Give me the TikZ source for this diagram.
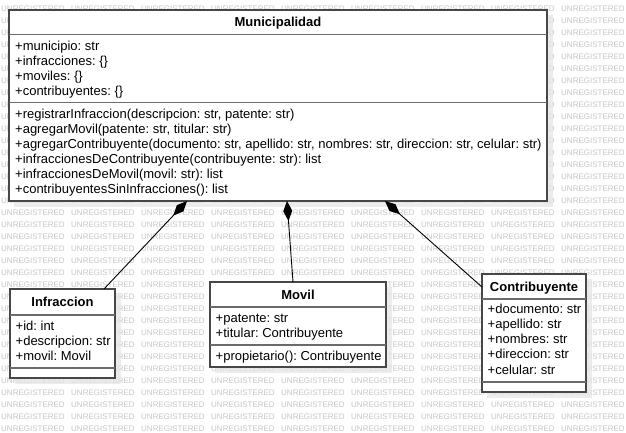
\documentclass[tikz,border=0pt]{standalone}
\usepackage{fontspec}
\setmainfont{Liberation Sans}
\usetikzlibrary{arrows.meta,calc}
\frenchspacing
\begin{document}
\begin{tikzpicture}[x=1bp,y=-1bp,
  wmark/.style={anchor=west,inner sep=0,font=\fontsize{8bp}{8bp}\selectfont,text=black!22},
  classbox/.style={draw=black!72,line width=1.4bp,fill=white,anchor=north west,inner sep=0,outer sep=0},
  shadowbox/.style={fill=black!10,opacity=0.7},
  sepline/.style={draw=black!58,line width=1.4bp},
  title/.style={anchor=base,inner sep=0,font=\fontsize{13bp}{15bp}\selectfont\bfseries},
  member/.style={anchor=base west,inner sep=0,font=\fontsize{13bp}{15bp}\selectfont\frenchspacing},
  compo/.style={draw=black,line width=0.9bp,-{Diamond[length=20bp,width=9bp]}}]
\useasboundingbox (0,0) rectangle (626,432);
\fill[white] (0,0) rectangle (626,432);
% watermark
\foreach \j in {0,...,8}{
  \foreach \k in {0,...,35}{
    \node[wmark] (wm-\j-\k) at ({1+70*\j},{9+12*\k}) {UNREGISTERED};
  }
}
% shadows
\fill[shadowbox] (14,15) rectangle (553,207);
\fill[shadowbox] (15,294) rectangle (121,384);
\fill[shadowbox] (215,287) rectangle (392,373);
\fill[shadowbox] (487,279) rectangle (592,398);
% Municipalidad
\node[classbox,minimum width=538bp,minimum height=191bp] (muni) at (9,10) {};
\draw[sepline] (9,34.5) -- (547,34.5);
\draw[sepline] (9,102.5) -- (547,102.5);
\node[title] (muni-t) at (278,26.5) {Municipalidad};
\node[member] (muni-a1) at (15,50) {+municipio: str};
\node[member] (muni-a2) at (15,65) {+infracciones: \{\}};
\node[member] (muni-a3) at (15,80) {+moviles: \{\}};
\node[member] (muni-a4) at (15,95) {+contribuyentes: \{\}};
\node[member] (muni-o1) at (15,118.5) {+registrarInfraccion(descripcion: str, patente: str)};
\node[member] (muni-o2) at (15,133.5) {+agregarMovil(patente: str, titular: str)};
\node[member] (muni-o3) at (15,148.5) {+agregarContribuyente(documento: str, apellido: str, nombres: str, direccion: str, celular: str)};
\node[member] (muni-o4) at (15,163.3) {+infraccionesDeContribuyente(contribuyente: str): list};
\node[member] (muni-o5) at (15,178.2) {+infraccionesDeMovil(movil: str): list};
\node[member] (muni-o6) at (15,193) {+contribuyentesSinInfracciones(): list};
% Infraccion
\node[classbox,minimum width=105bp,minimum height=89bp] (inf) at (10,289) {};
\draw[sepline] (10,315) -- (115,315);
\draw[sepline] (10,368) -- (115,368);
\node[title] (inf-t) at (62.5,306.5) {Infraccion};
\node[member] (inf-a1) at (15.5,330) {+id: int};
\node[member] (inf-a2) at (15.5,345) {+descripcion: str};
\node[member] (inf-a3) at (15.5,360) {+movil: Movil};
% Movil
\node[classbox,minimum width=176bp,minimum height=85bp] (movil) at (210,282) {};
\draw[sepline] (210,307) -- (386,307);
\draw[sepline] (210,345) -- (386,345);
\node[title] (movil-t) at (298,299.5) {Movil};
\node[member] (movil-a1) at (215.5,322) {+patente: str};
\node[member] (movil-a2) at (215.5,337) {+titular: Contribuyente};
\node[member] (movil-o1) at (215.5,360) {+propietario(): Contribuyente};
% Contribuyente
\node[classbox,minimum width=104bp,minimum height=118bp] (contri) at (482,274) {};
\draw[sepline] (482,299) -- (586,299);
\draw[sepline] (482,382) -- (586,382);
\node[title] (contri-t) at (534,291) {Contribuyente};
\node[member] (contri-a1) at (487.5,313.5) {+documento: str};
\node[member] (contri-a2) at (487.5,328.5) {+apellido: str};
\node[member] (contri-a3) at (487.5,343.5) {+nombres: str};
\node[member] (contri-a4) at (487.5,358.5) {+direccion: str};
\node[member] (contri-a5) at (487.5,374) {+celular: str};
% compositions
\draw[compo] ($(inf.north west)+(94,0)$) -- ($(muni.south west)+(178,0)$);
\draw[compo] ($(movil.north west)+(83,0)$) -- ($(muni.south west)+(278,0)$);
\draw[compo] ($(contri.north west)+(0,13)$) -- ($(muni.south west)+(376,0)$);
\end{tikzpicture}
\end{document}
